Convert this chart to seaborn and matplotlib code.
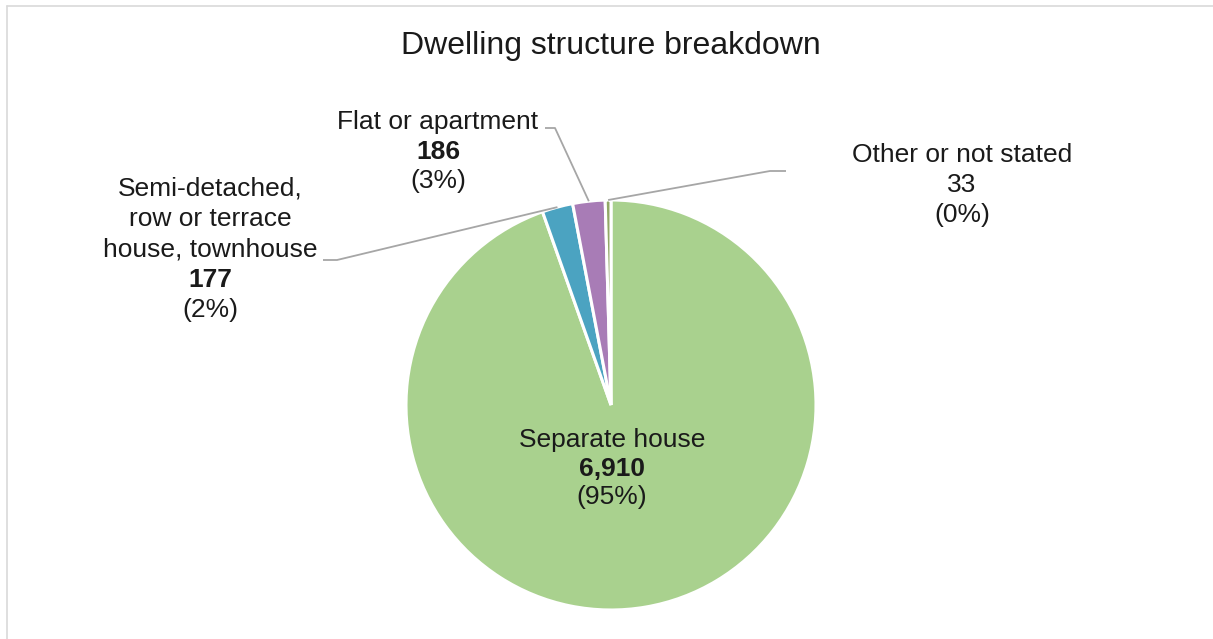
import numpy as np
import matplotlib
matplotlib.use("Agg")
import matplotlib.pyplot as plt
import seaborn as sns

# Dwelling structure counts
categories = ["Separate house", "Semi-detached,\nrow or terrace\nhouse, townhouse",
              "Flat or apartment", "Other or not stated"]
counts = [6910, 177, 186, 33]
pct_labels = ["(95%)", "(2%)", "(3%)", "(0%)"]
count_bold = [True, True, True, False]
colors = ["#A9D18E", "#4BA3C1", "#A87CB6", "#92A866"]

sns.set_theme(style="white")
plt.rcParams["font.family"] = ["Liberation Sans", "DejaVu Sans"]

W, H, DPI = 1213, 639, 100
fig = plt.figure(figsize=(W / DPI, H / DPI), dpi=DPI, facecolor="white")
ax = fig.add_axes([0, 0, 1, 1])

# pie geometry in pixels
cx, cy, R = 611, 405, 205


def to_data(px, py):
    return (px - cx) / R, (cy - py) / R


wedges, _ = ax.pie(counts, colors=colors, startangle=90, counterclock=False,
                   radius=1.0, wedgeprops=dict(edgecolor="white", linewidth=2.2))

ax.set_xlim(-cx / R, (W - cx) / R)
ax.set_ylim(-(H - cy) / R, cy / R)
ax.set_aspect("equal", adjustable="box")
ax.axis("off")

# frame around the chart area (top and left edges)
fig.add_artist(plt.Line2D([7 / W, 1], [1 - 6 / H, 1 - 6 / H], color="#D9D9D9", lw=1.2))
fig.add_artist(plt.Line2D([7 / W, 7 / W], [0, 1 - 6 / H], color="#D9D9D9", lw=1.2))

fig.text(611 / W, 1 - 46 / H, "Dwelling structure breakdown", ha="center", va="center",
         fontsize=23, color="#1A1A1A")

fs = 19
line_px = 30


def draw_label(idx, px, py_first, step=line_px):
    name_lines = categories[idx].split("\n")
    lines = [(l, "normal") for l in name_lines]
    lines.append((f"{counts[idx]:,}", "bold" if count_bold[idx] else "normal"))
    lines.append((pct_labels[idx], "normal"))
    for k, (txt, wt) in enumerate(lines):
        x, y = to_data(px, py_first + k * step)
        ax.text(x, y, txt, ha="center", va="center", fontsize=fs, fontweight=wt,
                color="#1A1A1A")


draw_label(0, 612, 440, 28.5)
draw_label(1, 210, 188, 30.5)
draw_label(2, 438, 122, 29.5)
draw_label(3, 962, 155, 30)

# leader lines from wedge midpoints to their labels
def wedge_mid(w):
    ang = np.deg2rad((w.theta1 + w.theta2) / 2)
    return np.cos(ang), np.sin(ang)


elbows = {
    1: [(323, 260), (337, 260)],
    2: [(545, 128), (555, 128)],
    3: [(786, 171), (770, 171)],
}
for idx, pts in elbows.items():
    mx, my = wedge_mid(wedges[idx])
    xs = [to_data(*p)[0] for p in pts] + [mx]
    ys = [to_data(*p)[1] for p in pts] + [my]
    ax.plot(xs, ys, color="#A6A6A6", lw=1.3, solid_capstyle="butt")

fig.savefig("out.png", dpi=DPI, facecolor="white")
